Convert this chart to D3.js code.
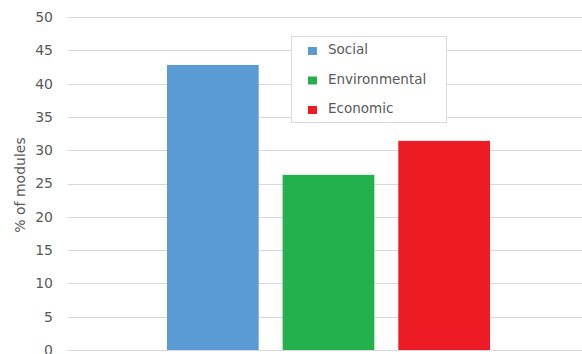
<!DOCTYPE html>
<html><head><meta charset="utf-8">
<script src="https://cdn.jsdelivr.net/npm/d3@7"></script>
<style>body{margin:0;background:#fff}svg{display:block}</style>
</head><body>
<svg id="chart" width="582" height="354"></svg>
<script>
const series = ["Social", "Environmental", "Economic"];
const values = [42.8, 26.3, 31.4];
const colors = ["#5B9BD5", "#22B14C", "#ED1C24"];
const yTicks = [0, 5, 10, 15, 20, 25, 30, 35, 40, 45, 50];
const yTitle = "% of modules";

const svg = d3.select("#chart");
const font = "DejaVu Sans, sans-serif";
const textColor = "#595959";

const y = d3.scaleLinear().domain([0, 50]).range([350, 17]);
const x = d3.scaleBand().domain(series).range([155, 502]).paddingInner(0.207).paddingOuter(0.1035);

// gridlines
svg.append("g").selectAll("line").data(yTicks).join("line")
  .attr("x1", 68).attr("x2", 582)
  .attr("y1", d => Math.round(y(d)) + 0.5).attr("y2", d => Math.round(y(d)) + 0.5)
  .attr("stroke", "#d9d9d9").attr("stroke-width", 1);

// y axis labels
const yAxis = d3.axisLeft(y).tickValues(yTicks).tickSize(0).tickPadding(0);
const ga = svg.append("g").attr("transform", "translate(53,0)").call(yAxis);
ga.select(".domain").remove();
ga.selectAll("text").attr("font-family", font).attr("font-size", 14).attr("fill", textColor);

// axis title
svg.append("text").attr("transform", "translate(25,185) rotate(-90)")
  .attr("text-anchor", "middle").attr("font-family", font).attr("font-size", 14)
  .attr("fill", textColor).text(yTitle);

// bars
svg.append("g").selectAll("rect").data(series).join("rect")
  .attr("x", d => x(d)).attr("width", x.bandwidth())
  .attr("y", (d, i) => y(values[i])).attr("height", (d, i) => y(0) - y(values[i]))
  .attr("fill", (d, i) => colors[i]);

// legend
const lg = svg.append("g");
lg.append("rect").attr("x", 291.5).attr("y", 36.5).attr("width", 155).attr("height", 86)
  .attr("fill", "#fff").attr("stroke", "#d9d9d9");
series.forEach((s, i) => {
  const by = 54 + i * 29.5;
  lg.append("rect").attr("x", 308).attr("y", by - 7).attr("width", 9).attr("height", 8).attr("fill", colors[i]);
  lg.append("text").attr("x", 328).attr("y", by).attr("font-family", font).attr("font-size", 13.5)
    .attr("fill", textColor).text(s);
});
</script>
</body></html>
